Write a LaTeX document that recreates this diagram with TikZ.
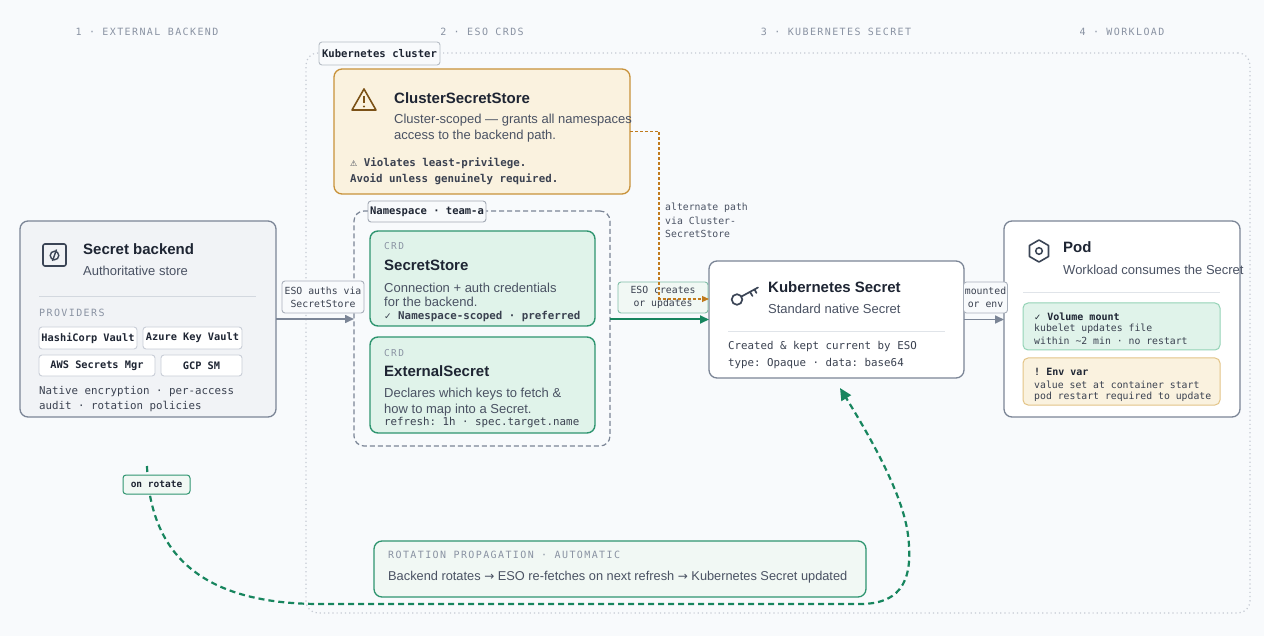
\documentclass[tikz,border=0pt]{standalone}
\usepackage{fontspec}
\setmainfont{Liberation Sans}
\setmonofont{DejaVu Sans Mono}
\newfontfamily\capsmono[LetterSpace=14]{DejaVu Sans Mono}
\newfontfamily\symfont{DejaVu Sans}
\usetikzlibrary{calc,arrows.meta}
\newcommand\fsz[2]{\fontsize{#1}{#2}\selectfont}
\newcommand\rarr{{\symfont\fsz{12}{15}→}}

\definecolor{bgc}{HTML}{F8FAFC}
\definecolor{ink}{HTML}{1E2533}
\definecolor{body}{HTML}{4A5263}
\definecolor{monoink}{HTML}{3A4150}
\definecolor{muted}{HTML}{8A93A3}
\definecolor{edge}{HTML}{7B8596}
\definecolor{light}{HTML}{D3D8DF}
\definecolor{chipedge}{HTML}{C9CED7}
\definecolor{clus}{HTML}{C5CAD3}
\definecolor{grn}{HTML}{17855E}
\definecolor{grnedge}{HTML}{2F9570}
\definecolor{grnfill}{HTML}{E0F3EA}
\definecolor{grnpale}{HTML}{F1F8F4}
\definecolor{grnsoft}{HTML}{94D3B6}
\definecolor{amb}{HTML}{C8923A}
\definecolor{ambfill}{HTML}{FAF2DF}
\definecolor{ambdash}{HTML}{C07A1C}
\definecolor{ambsoft}{HTML}{E3C487}
\definecolor{warn}{HTML}{7B5217}
\definecolor{icon}{HTML}{3B4556}
\definecolor{bkfill}{HTML}{F1F3F6}

\tikzset{
  box/.style={draw, rounded corners=8pt, inner sep=0pt, outer sep=0pt, anchor=north west},
  ttl/.style={anchor=west, inner sep=0pt, text=ink, font=\bfseries\fsz{15}{18}},
  sub/.style={anchor=west, inner sep=0pt, text=body, font=\fsz{13}{16}},
  mono/.style={anchor=west, inner sep=0pt, text=monoink, font=\ttfamily\fsz{10.8}{13}},
  bmono/.style={mono, font=\ttfamily\bfseries\fsz{10.8}{13}},
  small/.style={anchor=west, inner sep=0pt, text=monoink, font=\ttfamily\fsz{9.8}{12}},
  bsmall/.style={small, text=ink, font=\ttfamily\bfseries\fsz{10}{12}},
  caps/.style={anchor=west, inner sep=0pt, text=muted, font=\capsmono\fsz{10}{12}},
  hdr/.style={caps, anchor=center},
  chip/.style={draw=chipedge, fill=white, line width=0.9pt, rounded corners=3pt, inner sep=0pt,
    text=ink, font=\ttfamily\bfseries\fsz{10.3}{12}},
  tag/.style={draw=edge!65, fill=bgc, line width=0.9pt, rounded corners=3pt, inner xsep=1pt,
    inner ysep=3pt, align=center, text=monoink, font=\ttfamily\fsz{9.8}{13}},
  sep/.style={draw=light, line width=1pt},
  flow/.style={-{Triangle[length=9pt,width=8pt]}, line width=1.6pt},
}

\begin{document}
\begin{tikzpicture}[x=1pt,y=-1pt]
  %%%%% BACKGROUND %%%%%
  \fill[bgc] (0,0) rectangle (1264,636);
  \useasboundingbox (0,0) rectangle (1264,636);

  \foreach \x/\t [count=\i] in {147/1 · EXTERNAL BACKEND, 482/2 · ESO CRDS,
      836/3 · KUBERNETES SECRET, 1122/4 · WORKLOAD}
    \node[hdr] (hdr\i) at (\x,32) {\t};

  %%%%% CLUSTER %%%%%
  \node[box, draw=clus, line width=1.2pt, dash pattern=on 1.2pt off 3pt, rounded corners=12pt,
    minimum width=944pt, minimum height=560pt] (clus) at (306,53) {};
  \node[chip, draw=edge!55, fill=bgc, minimum width=121pt, minimum height=23pt,
    font=\ttfamily\bfseries\fsz{10.6}{12}] (cluslbl) at (379.5,53.5) {Kubernetes cluster};

  %%%%% CLUSTERSECRETSTORE %%%%%
  \node[box, draw=amb, fill=ambfill, line width=1.3pt, minimum width=296pt,
    minimum height=125pt] (css) at (334,69) {};
  \draw[warn, line width=1.6pt, line join=round] (364,89) -- (376,110) -- (352,110) -- cycle;
  \draw[warn, line width=1.6pt] (364,96) -- (364,103);
  \fill[warn] (364,106.5) circle (1.1);
  \node[ttl] (cssttl) at (394,98) {ClusterSecretStore};
  \node[sub] (csssub1) at (394,120) {Cluster-scoped — grants all namespaces};
  \node[sub] (csssub2) at (394,136) {access to the backend path.};
  \node[bmono] (csswarn1) at (350,163) {{\symfont\fsz{8}{10}⚠} Violates least-privilege.};
  \node[bmono] (csswarn2) at (350,179) {Avoid unless genuinely required.};

  %%%%% NAMESPACE %%%%%
  \node[box, draw=edge, line width=1.2pt, dash pattern=on 5pt off 3pt, rounded corners=10pt,
    minimum width=256pt, minimum height=235pt] (ns) at (354,211) {};
  \node[chip, draw=edge!70, fill=bgc, minimum width=118pt, minimum height=21pt,
    font=\ttfamily\bfseries\fsz{10.5}{12}] (nslbl) at (427,211.5) {Namespace · team-a};

  \node[box, draw=grnedge, fill=grnfill, line width=1.4pt, minimum width=225pt,
    minimum height=95pt] (sstore) at (370,231) {};
  \node[caps, font=\capsmono\fsz{9.5}{12}] (sscrd) at (384,246) {CRD};
  \node[ttl] (ssttl) at (384,265) {SecretStore};
  \node[sub] (sssub1) at (384,288) {Connection + auth credentials};
  \node[sub] (sssub2) at (384,302) {for the backend.};
  \node[bmono] (ssnote) at (384,317) {{\symfont\fsz{9}{10}✓} Namespace-scoped · preferred};

  \node[box, draw=grnedge, fill=grnfill, line width=1.4pt, minimum width=225pt,
    minimum height=96pt] (esecret) at (370,337) {};
  \node[caps, font=\capsmono\fsz{9.5}{12}] (escrd) at (384,353) {CRD};
  \node[ttl] (esttl) at (384,371) {ExternalSecret};
  \node[sub] (essub1) at (384,394) {Declares which keys to fetch \&};
  \node[sub] (essub2) at (384,410) {how to map into a Secret.};
  \node[mono] (esnote) at (384,423) {refresh: 1h · spec.target.name};

  %%%%% BACKEND %%%%%
  \node[box, draw=edge, fill=bkfill, line width=1.3pt, minimum width=256pt,
    minimum height=196pt] (backend) at (20,221) {};
  \draw[icon, line width=1.6pt, rounded corners=2pt] (43,244) rectangle (66,266);
  \draw[icon, line width=1.4pt] (54.5,255.5) circle (4.3);
  \draw[icon, line width=1.4pt] (52.5,261) -- (56.5,249.5);
  \node[ttl] (bkttl) at (83,249) {Secret backend};
  \node[sub] (bksub) at (83,271) {Authoritative store};
  \draw[sep] (39,297) -- (256,297);
  \node[caps] (bkprov) at (39,313) {PROVIDERS};
  \node[chip, minimum width=98pt, minimum height=22pt] (chvault) at (88,338) {HashiCorp Vault};
  \node[chip, minimum width=99pt, minimum height=22pt] (chazure) at (192.5,338) {Azure Key Vault};
  \node[chip, minimum width=116pt, minimum height=21pt] (chaws) at (97,365.5) {AWS Secrets Mgr};
  \node[chip, minimum width=81pt, minimum height=21pt] (chgcp) at (201.5,365.5) {GCP SM};
  \node[mono] (bknote1) at (39,392) {Native encryption · per-access};
  \node[mono] (bknote2) at (39,406) {audit · rotation policies};

  %%%%% KUBERNETES SECRET %%%%%
  \node[box, draw=edge, fill=white, line width=1.3pt, minimum width=255pt,
    minimum height=117pt] (ksec) at (709,261) {};
  \draw[icon, line width=1.7pt, line cap=round] (737,299.5) circle (5.3);
  \draw[icon, line width=1.7pt, line cap=round] (741.5,296.5) -- (758,287.5)
    (750,292) -- (752.5,296) (754.5,289.5) -- (756.5,293);
  \node[ttl] (ksttl) at (768,287) {Kubernetes Secret};
  \node[sub] (kssub) at (768,309) {Standard native Secret};
  \draw[sep, draw=light!70] (728,332) -- (945,332);
  \node[mono] (ksnote1) at (728,347) {Created \& kept current by ESO};
  \node[mono] (ksnote2) at (728,364) {type: Opaque · data: base64};

  %%%%% POD %%%%%
  \node[box, draw=edge, fill=white, line width=1.3pt, minimum width=236pt,
    minimum height=196pt] (pod) at (1004,221) {};
  \draw[icon, line width=1.6pt, line join=round]
    (1039,251) ++(90:11) -- ++(210:11) -- ++(270:11) -- ++(330:11) -- ++(30:11) -- ++(90:11) -- cycle;
  \draw[icon, line width=1.5pt] (1039,251) circle (3.3);
  \node[ttl] (podttl) at (1063,247) {Pod};
  \node[sub] (podsub) at (1063,270) {Workload consumes the Secret};
  \draw[sep, draw=light!70] (1023,293) -- (1220,293);
  \node[box, draw=grnsoft, fill=grnfill, line width=1pt, rounded corners=5pt,
    minimum width=197pt, minimum height=47pt] (vol) at (1023,303) {};
  \node[bsmall] (voltt) at (1034,317) {{\symfont\fsz{8.5}{10}✓} Volume mount};
  \node[small] (vol1) at (1034,329) {kubelet updates file};
  \node[small] (vol2) at (1034,341) {within \textasciitilde 2 min · no restart};
  \node[box, draw=ambsoft, fill=ambfill, line width=1pt, rounded corners=5pt,
    minimum width=197pt, minimum height=47pt] (env) at (1023,358) {};
  \node[bsmall] (envtt) at (1034,372) {! Env var};
  \node[small] (env1) at (1034,385) {value set at container start};
  \node[small] (env2) at (1034,397) {pod restart required to update};

  %%%%% FLOWS %%%%%
  \draw[flow, edge] (backend.east) -- (backend.east -| ns.west);
  \node[tag, minimum width=82pt, minimum height=32pt] (lblauth) at (323,297)
    {ESO auths via\\SecretStore};

  \draw[flow, grn, line width=2pt] (ksec.west -| ns.east) -- (ksec.west);
  \node[tag, draw=grnedge!60, fill=grnpale, minimum width=90pt, minimum height=31pt]
    (lblcreate) at (663,297.5) {ESO creates\\or updates};

  \draw[flow, edge] (ksec.east) -- (ksec.east -| pod.west);
  \node[tag, minimum width=44pt, minimum height=31pt, inner xsep=0pt] (lblmount)
    at (985.5,297.5) {mounted\\or env};

  \draw[ambdash, line width=1.1pt, dash pattern=on 3pt off 2pt,
    -{Triangle[length=7pt,width=6pt]}]
    (css.east) -- ++(29,0) |- ([yshift=20.5pt]ksec.west);
  \node[small, text=body, align=left, font=\ttfamily\fsz{9.8}{13.5}] (lblalt) at (665,220.5)
    {alternate path\\via Cluster-\\SecretStore};

  %%%%% ROTATION %%%%%
  \node[box, draw=grnedge, fill=grnpale, line width=1.3pt, minimum width=492pt,
    minimum height=56pt] (rot) at (374,541) {};
  \node[caps] (rotcap) at (388,555) {ROTATION PROPAGATION · AUTOMATIC};
  \node[sub, font=\fsz{12.8}{15}] (rottxt) at (388,577)
    {Backend rotates \rarr\ ESO re-fetches on next refresh \rarr\ Kubernetes Secret updated};

  \coordinate (rotsrc) at (147,466);
  \coordinate (rottip) at ($(ksec.south)+(3.5,10)$);
  \draw[grn, line width=2.2pt, dash pattern=on 6pt off 4pt,
    -{Triangle[length=12pt,width=11pt]}]
    (rotsrc) .. controls (150,565) and (215,604) .. (320,604) -- (860,604)
    .. controls (905,604) and (913,575) .. (908,535)
    .. controls (903,495) and (872,440) .. (rottip);
  \node[chip, draw=grnedge, fill=grnpale, line width=1pt, minimum width=67pt, minimum height=19pt,
    font=\ttfamily\bfseries\fsz{9.5}{11}] (lblrot) at (156.5,484.5) {on rotate};
\end{tikzpicture}
\end{document}
